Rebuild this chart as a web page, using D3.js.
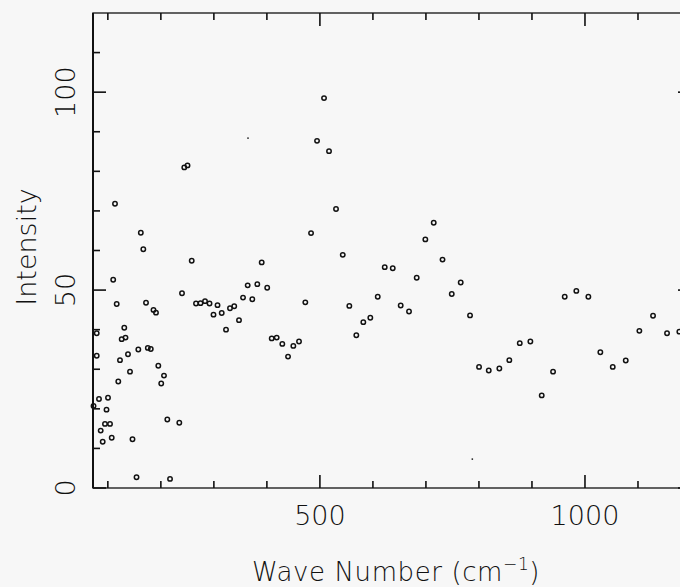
<!DOCTYPE html>
<html>
<head>
<meta charset="utf-8">
<script src="https://cdn.jsdelivr.net/npm/d3@7"></script>
<style>
  body { margin: 0; background: #f7f7f7; }
  svg { display: block; }
  text { font-family: "DejaVu Sans", sans-serif; font-weight: 200; fill: #111; }
</style>
</head>
<body>
<svg id="chart"></svg>
<script>
// scanned spectrum: intensity vs wave number

// data
var waveNumber = [73, 79, 79, 83.3, 86.5, 90.3, 94.6, 97.5, 100.3, 104.1,
    107.3, 110.1, 113.5, 116.7, 119.7, 122.9, 126.1, 131, 133.3, 138,
    141.8, 146.5, 154.1, 157.5, 162.2, 166.9, 172, 175.4, 181, 186.1,
    190.8, 195.2, 200.7, 205.9, 212.2, 217.3, 234.8, 239.9, 244.2, 250.3,
    258.2, 266.3, 274.8, 283.3, 291.8, 299.3, 306.9, 314.8, 322.9, 330.4,
    338.4, 347.4, 355, 363.8, 372.5, 381.9, 390.2, 400.6, 409.1, 418.5,
    429.1, 439.9, 449.9, 460.6, 472.5, 483.3, 494.6, 507.8, 517.2, 530.4,
    543.1, 555.5, 568.7, 581.9, 595.1, 609.1, 622.3, 637.4, 652.4, 668.1,
    682.6, 698.9, 714.7, 731.3, 748.7, 765.6, 783.2, 800.2, 818.5, 838.5,
    857.3, 877, 897, 918.4, 939.8, 961.8, 983.7, 1006.4, 1029, 1052.4,
    1076.9, 1102.6, 1128.4, 1154.8, 1178];

var intensity = [20.7, 39.1, 33.4, 22.5, 14.5, 11.7, 16.2, 19.8, 22.8, 16.2,
    12.7, 52.6, 71.8, 46.5, 26.9, 32.3, 37.6, 40.5, 38.0, 33.8,
    29.4, 12.3, 2.7, 35.0, 64.5, 60.3, 46.8, 35.4, 35.1, 45.0,
    44.3, 30.9, 26.4, 28.4, 17.3, 2.3, 16.5, 49.2, 81.0, 81.5,
    57.4, 46.6, 46.7, 47.2, 46.6, 43.8, 46.2, 44.2, 40.0, 45.4,
    45.9, 42.4, 48.1, 51.2, 47.7, 51.5, 57.0, 50.6, 37.8, 38.0,
    36.4, 33.2, 35.9, 37.0, 46.9, 64.4, 87.7, 98.5, 85.1, 70.5,
    58.9, 46.0, 38.6, 41.9, 43.0, 48.3, 55.8, 55.5, 46.1, 44.6,
    53.1, 62.8, 67.0, 57.7, 49.0, 51.9, 43.6, 30.6, 29.7, 30.2,
    32.3, 36.6, 37.0, 23.4, 29.4, 48.3, 49.8, 48.3, 34.3, 30.6,
    32.2, 39.7, 43.5, 39.1, 39.5];

// two faint specks in the scan
var speckWave = [364.4, 787.5];
var speckIntensity = [88.4, 7.3];

var xMajorTicks = [500, 1000];
var xMinorTicks = [100, 200, 300, 400, 600, 700, 800, 900, 1100];
var yMajorTicks = [0, 50, 100];
var yMinorTicks = [10, 20, 30, 40, 60, 70, 80, 90, 110];

var xAxisLabel = 'Wave Number (cm';
var xAxisSup = '\u2212' + '1';
var yAxisLabel = 'Intensity';

(function(){

    var width = 680, height = 587;
    var plotLeft = 93, plotRight = 691, plotTop = 13, plotBottom = 488;
    var majorLen = 13, minorLen = 7, tickW = 1.6;

    var svg = d3.select('#chart')
        .attr('width', width)
        .attr('height', height);

    svg.append('rect')
        .attr('width', width)
        .attr('height', height)
        .attr('fill', '#f7f7f7');

    var xScale = d3.scaleLinear()
        .domain([72, 1200])
        .range([plotLeft, plotRight]);

    var yScale = d3.scaleLinear()
        .domain([0, 120])
        .range([plotBottom, plotTop]);

    // frame
    svg.append('rect')
        .attr('x', plotLeft)
        .attr('y', plotTop)
        .attr('width', plotRight - plotLeft)
        .attr('height', plotBottom - plotTop)
        .attr('fill', 'none')
        .attr('stroke', '#222')
        .attr('stroke-width', 1.4);

    svg.append('line')
        .attr('x1', plotLeft).attr('x2', plotLeft)
        .attr('y1', plotTop).attr('y2', plotBottom)
        .attr('stroke', '#111')
        .attr('stroke-width', 2);

    // inward ticks on all four sides (filled rects)
    var xTickData = xMajorTicks.map(v => ({v: v, len: majorLen}))
        .concat(xMinorTicks.map(v => ({v: v, len: minorLen})));
    var yTickData = yMajorTicks.map(v => ({v: v, len: majorLen}))
        .concat(yMinorTicks.map(v => ({v: v, len: minorLen})));

    var tickG = svg.append('g').attr('fill', '#111');

    tickG.selectAll('.tickB')
        .data(xTickData)
        .enter()
        .append('rect')
        .attr('class', 'tickB')
        .attr('x', d => xScale(d.v) - tickW / 2)
        .attr('y', d => plotBottom - d.len)
        .attr('width', tickW)
        .attr('height', d => d.len);

    tickG.selectAll('.tickT')
        .data(xTickData)
        .enter()
        .append('rect')
        .attr('class', 'tickT')
        .attr('x', d => xScale(d.v) - tickW / 2)
        .attr('y', plotTop)
        .attr('width', tickW)
        .attr('height', d => d.len);

    tickG.selectAll('.tickL')
        .data(yTickData)
        .enter()
        .append('rect')
        .attr('class', 'tickL')
        .attr('x', plotLeft)
        .attr('y', d => yScale(d.v) - tickW / 2)
        .attr('width', d => d.len)
        .attr('height', tickW);

    tickG.selectAll('.tickR')
        .data(yTickData)
        .enter()
        .append('rect')
        .attr('class', 'tickR')
        .attr('x', d => plotRight - d.len)
        .attr('y', d => yScale(d.v) - tickW / 2)
        .attr('width', d => d.len)
        .attr('height', tickW);

    // tick labels
    svg.selectAll('.xLabel')
        .data(xMajorTicks)
        .enter()
        .append('text')
        .attr('class', 'xLabel')
        .attr('x', d => xScale(d))
        .attr('y', 525)
        .attr('text-anchor', 'middle')
        .style('font-size', '27px')
        .text(d => d);

    svg.selectAll('.yLabel')
        .data(yMajorTicks)
        .enter()
        .append('text')
        .attr('class', 'yLabel')
        .attr('transform', d => `translate(75,${yScale(d)}) rotate(-90)`)
        .attr('text-anchor', 'middle')
        .style('font-size', '27px')
        .text(d => d);

    // axis titles
    var xTitle = svg.append('text')
        .attr('x', 396)
        .attr('y', 581)
        .attr('text-anchor', 'middle')
        .style('font-size', '26px')
        .style('letter-spacing', '0.6px');
    xTitle.append('tspan').text(xAxisLabel);
    xTitle.append('tspan')
        .attr('dy', -11)
        .style('font-size', '17px')
        .text(xAxisSup);
    xTitle.append('tspan')
        .attr('dy', 11)
        .text(')');

    svg.append('text')
        .attr('transform', 'translate(36,247) rotate(-90)')
        .attr('text-anchor', 'middle')
        .style('font-size', '27px')
        .text(yAxisLabel);

    // points
    var points = waveNumber.map((w, i) => ({x: w, y: intensity[i]}));

    svg.append('g')
        .selectAll('circle')
        .data(points)
        .enter()
        .append('circle')
        .attr('cx', d => xScale(d.x))
        .attr('cy', d => yScale(d.y))
        .attr('r', 2.2)
        .attr('fill', 'none')
        .attr('stroke', '#111')
        .attr('stroke-width', 1.5);

    svg.append('g')
        .selectAll('circle')
        .data(speckWave.map((w, i) => ({x: w, y: speckIntensity[i]})))
        .enter()
        .append('circle')
        .attr('cx', d => xScale(d.x))
        .attr('cy', d => yScale(d.y))
        .attr('r', 0.9)
        .attr('fill', '#222');

})();
</script>
</body>
</html>
